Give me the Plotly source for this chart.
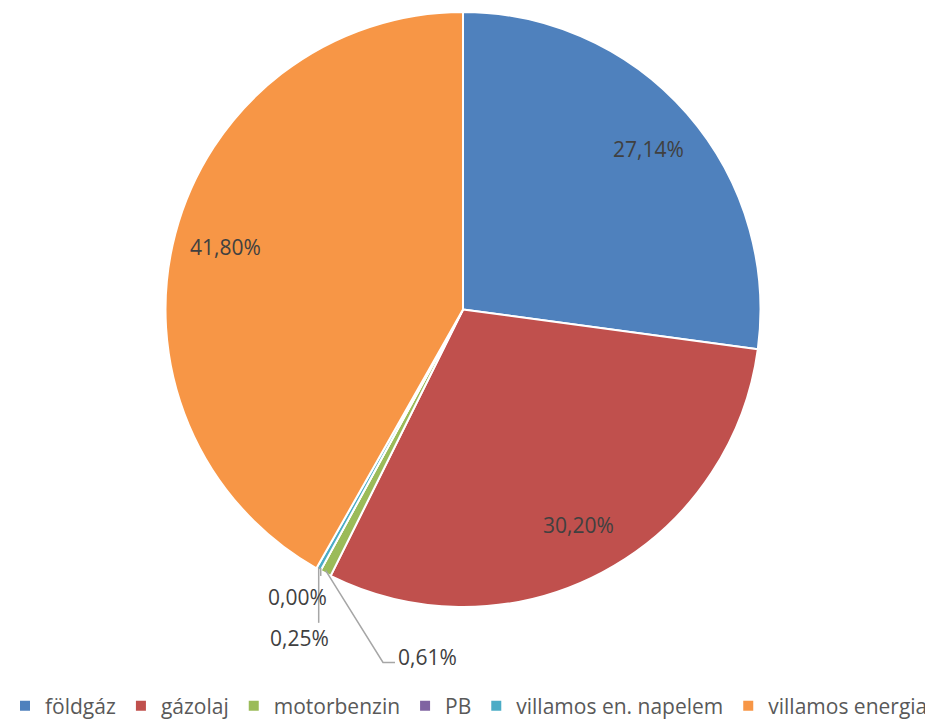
import math
import plotly.graph_objects as go

labels = ["földgáz", "gázolaj", "motorbenzin", "PB", "villamos en. napelem", "villamos energia"]
values = [27.14, 30.20, 0.61, 0.00, 0.25, 41.80]
colors = ["#4F81BD", "#C0504D", "#9BBB59", "#8064A2", "#4BACC6", "#F79646"]
text_labels = ["27,14%", "30,20%", "0,61%", "0,00%", "0,25%", "41,80%"]

# page has an 8px body margin; work in figure coordinates
OFF = 8
W, H = 933 - OFF, 727 - OFF
cx, cy, R = 463 - OFF, 312 - OFF, 300

def px(x):
    return (x - OFF) / W

def py(y):
    return 1 - (y - OFF) / H

fig = go.Figure(go.Pie(
    labels=labels, values=values, marker=dict(colors=colors, line=dict(color="white", width=2)),
    sort=False, direction="clockwise", rotation=0, textinfo="none", hoverinfo="label+percent",
    domain=dict(x=[(cx - R) / W, (cx + R) / W], y=[(H - cy - R) / H, (H - cy + R) / H]),
))

total = sum(values)
ann = []
shapes = []
cum = 0.0
LBL = dict(size=21, color="#404040", family="Open Sans")
LINE = dict(color="#A6A6A6", width=1.5)
# page-coordinate placements for the small outside labels
small = {2: ((383, 668), (395, 668), (427, 662)),
         3: (None, None, (297, 602)),
         4: ((None, 628), None, (299, 643))}
for i, v in enumerate(values):
    mid = (cum + v / 2) / total * 2 * math.pi
    cum += v
    if v >= 5:
        r = 0.82 * R
        x = cx + r * math.sin(mid)
        y = cy - r * math.cos(mid)
        ann.append(dict(x=x / W, y=1 - y / H, xref="paper", yref="paper", text=text_labels[i],
                        xanchor="center", yanchor="middle", showarrow=False, font=LBL))
    else:
        ex = cx + (R - 3) * math.sin(mid) + OFF
        ey = cy - (R - 3) * math.cos(mid) + OFF
        p1, p2, tp = small[i]
        if i == 2:
            path = f"M {px(ex)},{py(ey)} L {px(p1[0])},{py(p1[1])} L {px(p2[0])},{py(p2[1])}"
            shapes.append(dict(type="path", path=path, xref="paper", yref="paper", line=LINE))
        elif i == 4:
            shapes.append(dict(type="line", x0=px(ex), x1=px(ex), y0=py(ey), y1=py(p1[1]),
                               xref="paper", yref="paper", line=LINE))
        elif i == 3:
            shapes.append(dict(type="line", x0=px(ex), x1=px(ex), y0=py(ey), y1=py(ey + 8),
                               xref="paper", yref="paper", line=LINE))
        ann.append(dict(x=px(tp[0]), y=py(tp[1]), xref="paper", yref="paper", text=text_labels[i],
                        xanchor="center", yanchor="middle", showarrow=False, font=LBL))

fig.update_layout(
    width=W, height=H, margin=dict(l=0, r=0, t=0, b=0),
    paper_bgcolor="white", plot_bgcolor="white",
    font=dict(family="Open Sans", size=21, color="#595959"),
    annotations=ann, shapes=shapes,
    legend=dict(orientation="h", x=px(463), xanchor="center", y=py(712), yanchor="middle",
                font=dict(size=21, color="#595959"), itemclick=False, tracegroupgap=0),
)
fig.write_html("out.html")
